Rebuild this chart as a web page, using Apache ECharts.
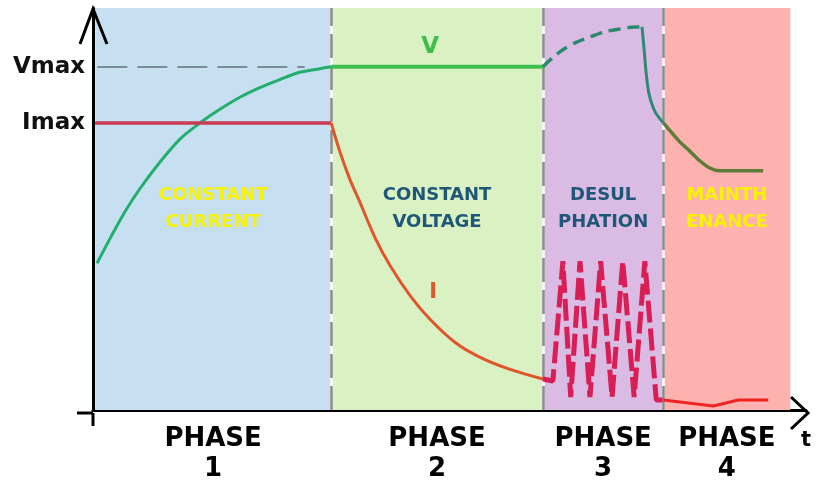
<!DOCTYPE html>
<html>
<head>
<meta charset="utf-8">
<script src="https://cdn.jsdelivr.net/npm/echarts@6/dist/echarts.min.js"></script>
<style>
html,body{margin:0;padding:0;background:#fff;}
#chart{width:816px;height:484px;}
</style>
</head>
<body>
<div id="chart"></div>
<script>
// ---- data ----
const phaseBounds = [0.3, 33.4, 63.1, 80.0, 97.8];
const phaseNames = ['CONSTANT\nCURRENT', 'CONSTANT\nVOLTAGE', 'DESUL\nPHATION', 'MAINTH\nENANCE'];
const phaseTickLabels = ['PHASE\n1', 'PHASE\n2', 'PHASE\n3', 'PHASE\n4'];
const levelValues = [85.4, 71.4];
const levelLabels = ['Vmax', 'Imax'];

const vPhase1 = [[0.56,36.5],[2.4,42.7],[4.5,49.4],[6.6,55.1],[9.4,61.7],[12.2,67.4],[15.0,71.4],[17.8,74.8],[20.6,77.8],[23.4,80.2],[26.2,82.2],[29.0,84.0],[31.8,84.9],[33.4,85.4]];
const vPhase2 = [[33.4,85.4],[63.1,85.4]];
const vPhase3Rise = [[63.1,85.4],[64.5,87.7],[65.9,89.6],[67.7,91.4],[69.7,92.8],[71.8,94.1],[73.9,94.8],[76.0,95.3],[77.0,95.3]];
const vPhase3Drop = [[77.0,95.3],[77.3,89.6],[77.6,83.5],[78.0,78.5],[78.8,74.3],[80.0,71.4]];
const vPhase4 = [[80.0,71.4],[81.2,68.9],[82.3,66.7],[83.7,64.4],[85.1,62.0],[86.5,60.2],[87.9,59.5],[94.0,59.5]];

const iPhase1 = [[0.3,71.4],[33.4,71.4]];
const iPhase2 = [[33.4,71.4],[34.6,64.4],[36.0,57.5],[37.5,51.4],[39.6,42.7],[41.7,35.8],[44.5,28.4],[47.3,22.5],[50.8,16.8],[54.3,13.1],[58.5,10.1],[63.1,7.7]];
const iPhase3 = [[63.1,7.7],[64.5,7.2],[65.9,37.0],[67.0,3.2],[68.3,37.0],[69.7,3.2],[71.2,37.0],[72.8,3.2],[74.3,37.0],[75.9,3.2],[77.4,37.0],[79.0,2.5],[80.0,2.5]];
const iPhase4 = [[80.0,2.5],[87.0,1.0],[90.5,2.5],[94.7,2.5]];

const vLabelPos = [47.3, 90.4];
const iLabelPos = [47.7, 29.1];
const vmaxGuideEnd = 29.7;

// ---- styles ----
const phaseColors = ['#c6e0f2', '#daf1c4', '#d9bbe3', '#feb2af'];
const phaseTextColors = ['#f7f200', '#1e5777', '#1e5777', '#f7f200'];
const FONT = '"DejaVu Sans", Verdana, sans-serif';

const phaseCenters = phaseNames.map((_, i) => (phaseBounds[i] + phaseBounds[i + 1]) / 2);

function lineSeries(data, color, width, extra) {
  return Object.assign({
    type: 'line', data: data, showSymbol: false, symbol: 'none', z: 5,
    lineStyle: { color: color, width: width }, silent: true
  }, extra || {});
}

const chart = echarts.init(document.getElementById('chart'), null, { renderer: 'canvas' });
chart.setOption({
  animation: false,
  backgroundColor: '#ffffff',
  grid: { left: 93, right: 10, top: 8, bottom: 71 },
  xAxis: {
    type: 'value', min: 0, max: 100,
    axisLine: { show: true, lineStyle: { color: '#000', width: 3 } },
    axisTick: { show: false },
    splitLine: { show: false },
    axisLabel: {
      customValues: phaseCenters,
      formatter: function (v) {
        let best = 0;
        phaseCenters.forEach((c, i) => { if (Math.abs(c - v) < Math.abs(phaseCenters[best] - v)) best = i; });
        return phaseTickLabels[best];
      },
      color: '#000', fontFamily: FONT, fontWeight: 'bold', fontSize: 26, lineHeight: 30, margin: 14
    },
    name: 't', nameLocation: 'end', nameGap: 0,
    nameTextStyle: { color: '#000', fontFamily: FONT, fontWeight: 'bold', fontSize: 21, align: 'center', verticalAlign: 'top', padding: [20, 0, 0, 0] }
  },
  yAxis: {
    type: 'value', min: 0, max: 100,
    axisLine: { show: true, lineStyle: { color: '#000', width: 3 } },
    axisTick: { show: false },
    splitLine: { show: false },
    axisLabel: {
      customValues: levelValues,
      formatter: function (v) {
        let best = 0;
        levelValues.forEach((c, i) => { if (Math.abs(c - v) < Math.abs(levelValues[best] - v)) best = i; });
        return levelLabels[best];
      },
      color: '#111', fontFamily: FONT, fontWeight: 'bold', fontSize: 23, margin: 8
    }
  },
  graphic: [
    { type: 'polyline', shape: { points: [[80, 44], [93, 9], [107, 44]] }, style: { stroke: '#000', lineWidth: 3, fill: null }, z: 100 },
    { type: 'polyline', shape: { points: [[791, 397], [808, 413], [791, 429]] }, style: { stroke: '#000', lineWidth: 3, fill: null }, z: 100 },
    { type: 'line', shape: { x1: 93, y1: 413, x2: 93, y2: 426 }, style: { stroke: '#000', lineWidth: 3 }, z: 100 },
    { type: 'line', shape: { x1: 77, y1: 413, x2: 93, y2: 413 }, style: { stroke: '#000', lineWidth: 3 }, z: 100 }
  ],
  series: [
    {
      type: 'line', data: [[phaseBounds[0], 0]], showSymbol: false, symbol: 'none', z: 1, silent: true,
      lineStyle: { opacity: 0 },
      markArea: {
        silent: true,
        data: phaseNames.map((n, i) => [
          { xAxis: phaseBounds[i], yAxis: 0, name: n,
            itemStyle: { color: phaseColors[i] },
            label: { color: phaseTextColors[i] } },
          { xAxis: phaseBounds[i + 1], yAxis: 100 }
        ]),
        label: { show: true, position: 'inside', fontFamily: FONT, fontWeight: 'bold', fontSize: 18, lineHeight: 27, align: 'center' }
      }
    },
    {
      type: 'line', data: [[phaseBounds[1], 0]], showSymbol: false, symbol: 'none', z: 2, silent: true,
      lineStyle: { opacity: 0 },
      markLine: {
        silent: true, symbol: 'none', label: { show: false },
        lineStyle: { color: '#ffffff', width: 2.5, type: 'solid' },
        data: phaseBounds.slice(1, 4).map(b => ({ xAxis: b }))
      }
    },
    {
      type: 'line', data: [[phaseBounds[1], 0]], showSymbol: false, symbol: 'none', z: 3, silent: true,
      lineStyle: { opacity: 0 },
      markLine: {
        silent: true, symbol: 'none', label: { show: false },
        lineStyle: { color: '#8a8a8a', width: 2.5, type: [24, 8] },
        data: phaseBounds.slice(1, 4).map(b => ({ xAxis: b }))
      }
    },
    {
      type: 'line', data: [[0.6, levelValues[0]]], showSymbol: false, symbol: 'none', z: 3, silent: true,
      lineStyle: { opacity: 0 },
      markLine: {
        silent: true, symbol: 'none', label: { show: false },
        lineStyle: { color: '#7d8b96', width: 2, type: [30, 10] },
        data: [[{ coord: [0.6, levelValues[0]] }, { coord: [vmaxGuideEnd, levelValues[0]] }]]
      }
    },
    lineSeries(vPhase1, '#22ae6c', 3, { smooth: 0.3 }),
    lineSeries(vPhase2, '#3fbf52', 4, {
      markPoint: {
        silent: true, symbol: 'circle', symbolSize: 0,
        data: [{ coord: vLabelPos, value: 'V' }],
        label: { show: true, formatter: 'V', color: '#3cbf4a', fontFamily: FONT, fontWeight: 'bold', fontSize: 23, position: 'inside' }
      }
    }),
    lineSeries(vPhase3Rise, '#2b8a6c', 3.5, { smooth: 0.3, lineStyle: { color: '#2b8a6c', width: 3.5, type: [12, 7] } }),
    lineSeries(vPhase3Drop, '#2e8a72', 3, { smooth: 0.3 }),
    lineSeries(vPhase4, '#5d7d36', 3.5, { smooth: 0.3 }),
    lineSeries(iPhase1, '#c83a55', 3.5),
    lineSeries(iPhase2, '#e0562b', 3, {
      smooth: 0.3,
      markPoint: {
        silent: true, symbol: 'circle', symbolSize: 0,
        data: [{ coord: iLabelPos, value: 'I' }],
        label: { show: true, formatter: 'I', color: '#e0562b', fontFamily: FONT, fontWeight: 'bold', fontSize: 21, position: 'inside' }
      }
    }),
    lineSeries(iPhase3, '#d91e55', 5, { lineStyle: { color: '#d91e55', width: 5, type: [22, 6] } }),
    lineSeries(iPhase4, '#ee2424', 3)
  ]
});
</script>
</body>
</html>
